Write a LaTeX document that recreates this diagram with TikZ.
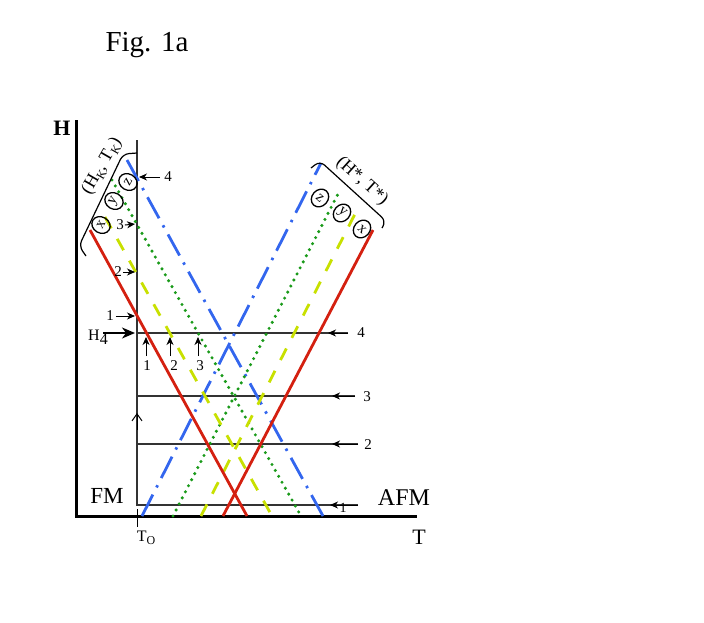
\documentclass[tikz,border=0pt]{standalone}
\usepackage{fontspec}
\setmainfont{Liberation Serif}
\usetikzlibrary{arrows.meta,shapes.geometric}
\definecolor{cred}{HTML}{D42010}
\definecolor{cyel}{HTML}{C8E000}
\definecolor{cgrn}{HTML}{1A9A1A}
\definecolor{cblu}{HTML}{3366EE}
\tikzset{
  axisline/.style={line width=3pt},
  thinline/.style={line width=1.1pt, draw=black!80},
  redline/.style={line width=2.8pt, draw=cred},
  yelline/.style={line width=2.8pt, draw=cyel, dash pattern=on 13pt off 12pt},
  grnline/.style={line width=3.4pt, draw=cgrn, line cap=round, dash pattern=on 0pt off 6.8pt},
  bluline/.style={line width=2.8pt, draw=cblu, dash pattern=on 24pt off 8pt on 2.5pt off 8pt},
  arr/.style={line width=1pt, -{Stealth[length=8pt,width=7pt,inset=2.5pt]}},
  lbl/.style={inner sep=0pt, font=\fontsize{15}{15}\selectfont},
  ring/.style={ellipse, draw, line width=1.3pt, inner sep=0pt, minimum width=16pt, minimum height=19pt, font=\fontsize{15}{15}\selectfont},
}
\begin{document}
\begin{tikzpicture}[x=1pt,y=-1pt]
\path[use as bounding box] (0,0) rectangle (704,622);

% title
\node[font=\fontsize{29}{30}\selectfont] (fig) at (147,45) {Fig. 1a};

% axes
\coordinate (O) at (76,516);
\coordinate (Htop) at (76,120);
\coordinate (Tend) at (417,516);
\draw[axisline] (Htop) -- (O) -- (Tend);
\node[font=\fontsize{22}{22}\selectfont\bfseries] (Hlab) at (62,128) {H};
\node[font=\fontsize{22}{22}\selectfont] (Tlab) at (419,537) {T};
\coordinate (t0a) at (137,509);
\coordinate (t0b) at (137,527);
\draw[line width=1pt] (t0a) -- (t0b);
\node[font=\fontsize{16}{16}\selectfont] (T0) at (146,538) {T\raisebox{-0.35ex}{\fontsize{12}{12}\selectfont O}};
\node[font=\fontsize{23}{23}\selectfont] (FM) at (107,496) {FM};
\node[font=\fontsize{24}{24}\selectfont] (AFM) at (404,498) {AFM};

% vertical thin line and horizontal lines
\coordinate (vtop) at (137,140);
\coordinate (v1) at (137,505);
\coordinate (v2) at (137,444);
\coordinate (v3) at (137,396);
\coordinate (v4) at (137,333);
\coordinate (e1) at (358,505);
\coordinate (e2) at (358,444);
\coordinate (e3) at (355,396);
\coordinate (e4) at (348,333);
\draw[thinline] (vtop) -- (v1) -- (e1);
\draw[thinline] (v2) -- (e2);
\draw[thinline] (v3) -- (e3);
\draw[thinline] (v4) -- (e4);

% colored lines
\draw[bluline] (127,160) -- (323,516);
\draw[bluline] (142,516) -- (321,163);
\draw[grnline] (112,180) -- (301,516);
\draw[grnline] (173,516) -- (339,192);
\draw[yelline] (105,217) -- (272,516);
\draw[yelline] (201,516) -- (357,210);
\draw[redline] (90,230) -- (247,516);
\draw[redline] (223,516) -- (373,230);

% arrows on horizontal lines
\coordinate (a1) at (330,505);
\coordinate (a2) at (332,444);
\coordinate (a3) at (332,396);
\coordinate (a4) at (328,333);
\draw[arr] (e1) -- (a1);
\draw[arr] (e2) -- (a2);
\draw[arr] (e3) -- (a3);
\draw[arr] (e4) -- (a4);
\node[lbl, font=\fontsize{14}{14}\selectfont] (n1) at (343,508) {1};
\node[lbl] (n2) at (368,445) {2};
\node[lbl] (n3) at (367,397) {3};
\node[lbl] (n4) at (361,333) {4};

% up arrow on vertical line
\coordinate (up0) at (137,430);
\coordinate (up1) at (137,413);
\draw[line width=1pt, -{Straight Barb[length=7pt,width=10pt]}] (up0) -- (up1);

% arrows under line 4
\foreach \x/\t/\xl in {146/1/147, 170/2/174, 198/3/200}{
  \coordinate (b\t) at (\x,356);
  \coordinate (bt\t) at (\x,337);
  \draw[arr] (b\t) -- (bt\t);
  \node[lbl] (bl\t) at (\xl,366) {\t};
}

% left arrows
\node[lbl] (l1) at (110,316) {1};
\coordinate (l1t) at (135,316);
\draw[arr] (l1.east) ++(2,0) -- (l1t);
\node[lbl] (l2) at (118,272) {2};
\coordinate (l2t) at (135,272);
\draw[arr] (l2.east) ++(1,0) -- (l2t);
\node[lbl] (l3) at (120,225) {3};
\coordinate (l3t) at (135,224);
\draw[arr] (l3.east) ++(1,0) -- (l3t);
\node[lbl] (l4) at (168,177) {4};
\coordinate (l4t) at (139,177);
\draw[arr] (l4.west) ++(-4,0) -- (l4t);
\node[font=\fontsize{16}{16}\selectfont, inner sep=0pt] (H4) at (98,337) {H\raisebox{-0.6ex}{4}};
\coordinate (h4s) at (103,333);
\coordinate (h4t) at (135,333);
\draw[line width=1.6pt, -{Stealth[length=13pt,width=11pt,inset=4pt]}] (h4s) -- (h4t);

% left bracket group
\draw[line width=1.2pt, rounded corners=6pt] (86,256) -- (79,246) -- (123,154) -- (137,153);
\node[rotate=60, font=\fontsize{18}{18}\selectfont, inner sep=1pt] (HK) at (102,166) {(H\raisebox{-0.45ex}{\fontsize{12}{12}\selectfont K}, T\raisebox{-0.45ex}{\fontsize{12}{12}\selectfont K})};
\node[ring, rotate=60] (Lx) at (101,225) {x};
\node[ring, rotate=60] (Ly) at (114,201) {y};
\node[ring, rotate=60] (Lz) at (128,182) {z};

% right bracket group
\draw[line width=1.2pt, rounded corners=6pt] (311,168) -- (320,161) -- (386,221) -- (382,228);
\node[rotate=-42, font=\fontsize{18}{18}\selectfont, inner sep=1pt] (HS) at (362,181) {(H*, T*)};
\node[ring, rotate=-42] (Rz) at (320,198) {z};
\node[ring, rotate=-42] (Ry) at (342,213) {y};
\node[ring, rotate=-42] (Rx) at (362,229) {x};
\end{tikzpicture}
\end{document}
